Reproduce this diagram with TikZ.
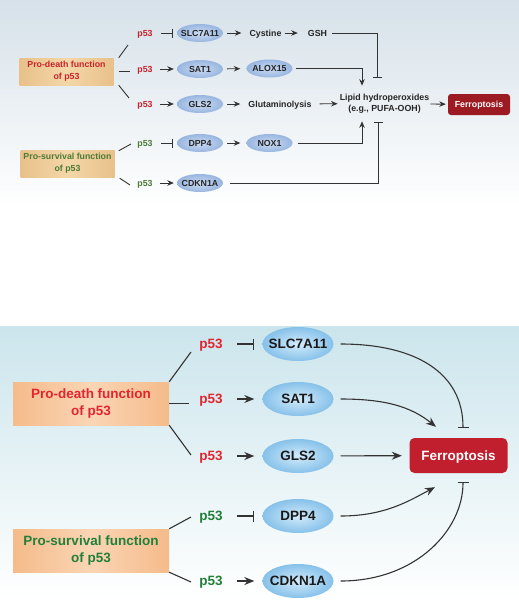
\documentclass[tikz,border=0pt]{standalone}
\usepackage{fontspec}
\setmainfont{Liberation Sans}
\usetikzlibrary{arrows.meta,shapes.geometric,calc}
\definecolor{bgA}{HTML}{D6E1E9}
\definecolor{bgB}{HTML}{CBE5EC}
\definecolor{tred}{HTML}{C8232C}
\definecolor{tgreen}{HTML}{4B7B38}
\definecolor{bred}{HTML}{E2252F}
\definecolor{bgreen}{HTML}{22803A}
\definecolor{tanA}{HTML}{E8C08A}
\definecolor{tanB}{HTML}{F4D7A8}
\definecolor{peachA}{HTML}{F5BB8A}
\definecolor{peachB}{HTML}{FAD5B5}
\definecolor{ellOutT}{HTML}{98B6E0}
\definecolor{ellInT}{HTML}{CCDBF2}
\definecolor{ellOutB}{HTML}{86C1EA}
\definecolor{ellInB}{HTML}{D3EBFA}
\definecolor{ferroT}{HTML}{9C1A22}
\definecolor{ferroB}{HTML}{C11F2E}
\definecolor{lineC}{HTML}{333333}
\newcommand{\zw}[1]{\makebox[0pt]{#1}}
\begin{document}
\begin{tikzpicture}[x=1pt,y=-1pt,
  tfont/.style={font=\fontsize{8.8}{12.3}\selectfont\bfseries},
  bfont/.style={font=\fontsize{13.5}{16.5}\selectfont\bfseries},
  tc/.style={text height=6.3pt,text depth=0pt},
  bc/.style={text height=9.7pt,text depth=0pt},
  ttxt/.style={tfont,text=black!85,inner sep=1pt,align=center},
  tp53r/.style={tfont,tc,text=tred,inner sep=1pt},
  tp53g/.style={tfont,tc,text=tgreen,inner sep=1pt},
  tfunbox/.style={tfont,align=center,minimum width=94pt,minimum height=27pt,inner sep=0pt,
    left color=tanA,right color=tanA,middle color=tanB},
  tell/.style={tfont,tc,ellipse,minimum width=46pt,minimum height=18pt,inner sep=0pt,
    inner color=ellInT,outer color=ellOutT,text=black!85},
  tferrobox/.style={tfont,tc,rounded corners=3pt,fill=ferroT,text=white,
    minimum width=62pt,minimum height=21pt,inner sep=0pt},
  tline/.style={draw=lineC,line width=0.9pt},
  tarr/.style={tline,-{Stealth[length=6.5pt,width=5.5pt]}},
  tinh/.style={tline,-{Bar[width=9pt]}},
  bp53r/.style={bfont,bc,text=bred,inner sep=1pt},
  bp53g/.style={bfont,bc,text=bgreen,inner sep=1pt},
  bfunbox/.style={bfont,align=center,minimum width=156pt,minimum height=43pt,inner sep=0pt,
    left color=peachA,right color=peachA,middle color=peachB},
  bell/.style={bfont,bc,ellipse,minimum width=71pt,minimum height=34pt,inner sep=0pt,
    inner color=ellInB,outer color=ellOutB,text=black!90},
  bferrobox/.style={bfont,bc,rounded corners=5pt,fill=ferroB,text=white,
    minimum width=98pt,minimum height=35pt,inner sep=0pt},
  bline/.style={draw=lineC,line width=1.1pt},
  barr/.style={bline,-{Stealth[length=10pt,width=8pt]}},
  binh/.style={bline,-{Bar[width=11pt]}}
]
\useasboundingbox (0,0) rectangle (519,600);
% backgrounds
\shade[top color=bgA,bottom color=white] (0,0) rectangle (519,208);
\shade[top color=bgB,bottom color=white] (0,326) rectangle (519,600);

% ================= TOP PANEL =================
\node[tfunbox,text=tred] (pd1) at (66.5,71.5) {Pro-death function\\of p53};
\node[tfunbox,text=tgreen] (ps1) at (67.5,163.5) {Pro-survival function\\of p53};
\node[tp53r] (p1) at (145,33) {p53};
\node[tp53r] (p2) at (145,69) {p53};
\node[tp53r] (p3) at (145,104) {p53};
\node[tp53g] (p4) at (145,143) {p53};
\node[tp53g] (p5) at (145,183) {p53};
\node[tell] (e1) at (200,33) {\zw{SLC7A11}};
\node[tell] (e2) at (200,69) {\zw{SAT1}};
\node[tell] (e3) at (200,104) {\zw{GLS2}};
\node[tell] (e4) at (200,143) {\zw{DPP4}};
\node[tell] (e5) at (200,183) {\zw{CDKN1A}};
\node[ttxt,tc] (cys) at (265.5,33) {Cystine};
\node[ttxt,tc] (gsh) at (317.5,33) {GSH};
\node[tell] (alox) at (269.5,68.5) {\zw{ALOX15}};
\node[ttxt,tc] (glu) at (280,104) {Glutaminolysis};
\node[tell] (nox) at (269.5,143) {\zw{NOX1}};
\node[ttxt,font=\fontsize{8.8}{11}\selectfont\bfseries] (lip) at (384.5,103.5) {Lipid hydroperoxides\\(e.g., PUFA-OOH)};
\node[tferrobox] (f1) at (479,104.5) {Ferroptosis};

% branches
\draw[tline] ($(pd1.north east)+(5,0)$) -- ($(p1)+(-17,12)$);
\draw[tline] ($(pd1.east)+(5,0)$) -- ($(pd1.east -| p2.west)+(-6,0)$);
\draw[tline] ($(pd1.south east)+(5,0)$) -- ($(p3)+(-16,-6)$);
\draw[tline] ($(ps1.north east)+(4,1)$) -- ($(p4)+(-14,1)$);
\draw[tline] ($(ps1.south east)+(5,1)$) -- ($(p5)+(-15,2)$);
% p53 -> genes
\draw[tinh,shorten <=7pt,shorten >=4pt] (p1) -- (e1);
\draw[tarr,shorten <=6pt,shorten >=3pt] (p2) -- (e2);
\draw[tarr,shorten <=6pt,shorten >=3pt] (p3) -- (e3);
\draw[tinh,shorten <=7pt,shorten >=4pt] (p4) -- (e4);
\draw[tarr,shorten <=6pt,shorten >=3pt] (p5) -- (e5);
% genes -> next
\draw[tarr,shorten <=4pt,shorten >=7pt] (e1) -- (cys);
\draw[tarr,shorten <=2pt,shorten >=9pt] (cys) -- (gsh);
\draw[tarr,shorten <=4pt,shorten >=6pt] (e2) -- (alox);
\draw[tarr,shorten <=4pt,shorten >=7pt] (e3) -- (glu);
\draw[tarr,shorten <=4pt,shorten >=6pt] (e4) -- (nox);
\draw[tarr,shorten <=7pt,shorten >=1pt] (glu) -- (lip);
\draw[tarr,shorten >=2pt] (lip) -- (f1);
% long connectors into lipid node
\coordinate (lipA) at ($(lip.north)+(-7.5,-15)$);
\coordinate (lipB) at ($(lip.north)+(-22.5,-7)$);
\coordinate (lipC) at ($(lip.south)+(-22.5,7)$);
\coordinate (lipD) at ($(lip.south)+(-6.5,8)$);
\draw[tinh] ($(gsh.east)+(4,0)$) -| (lipA);
\draw[tarr] ($(alox.east)+(3,0)$) -| (lipB);
\draw[tarr] ($(nox.east)+(5,0)$) -| (lipC);
\draw[tinh] ($(e5.east)+(7,0)$) -| (lipD);

% ================= BOTTOM PANEL =================
\node[bfunbox,text=bred] (pd2) at (91,403.5) {Pro-death function\\of p53};
\node[bfunbox,text=bgreen] (ps2) at (91,550.5) {Pro-survival function\\of p53};
\node[bp53r] (q1) at (211,344) {p53};
\node[bp53r] (q2) at (211,399) {p53};
\node[bp53r] (q3) at (211,456) {p53};
\node[bp53g] (q4) at (211,516) {p53};
\node[bp53g] (q5) at (211,581) {p53};
\node[bell] (b1) at (298,344) {\zw{SLC7A11}};
\node[bell] (b2) at (298,399) {\zw{SAT1}};
\node[bell] (b3) at (298,456) {\zw{GLS2}};
\node[bell] (b4) at (298,516) {\zw{DPP4}};
\node[bell] (b5) at (298,581) {\zw{CDKN1A}};
\node[bferrobox] (f2) at (458.5,455.5) {Ferroptosis};

% branches
\draw[bline] (pd2.north east) -- ($(q1)+(-20,8)$);
\draw[bline] (pd2.east) -- ($(pd2.east -| q2.west)+(-9,0)$);
\draw[bline] (pd2.south east) -- ($(q3)+(-20,-1)$);
\draw[bline] (ps2.north east) -- ($(q4)+(-20,1)$);
\draw[bline] (ps2.south east) -- ($(q5)+(-20,1)$);
% p53 -> genes
\draw[binh,shorten <=13pt,shorten >=8pt] (q1) -- (b1);
\draw[barr,shorten <=13pt,shorten >=8pt] (q2) -- (b2);
\draw[barr,shorten <=13pt,shorten >=8pt] (q3) -- (b3);
\draw[binh,shorten <=13pt,shorten >=8pt] (q4) -- (b4);
\draw[barr,shorten <=13pt,shorten >=8pt] (q5) -- (b5);
% genes -> Ferroptosis
\coordinate (s1) at ($(b1.east)+(7,0)$);
\coordinate (s2) at ($(b2.east)+(7,0)$);
\coordinate (s4) at ($(b4.east)+(7,0)$);
\coordinate (s5) at ($(b5.east)+(7,0)$);
\coordinate (fA) at ($(f2.north)+(4.5,-10)$);
\coordinate (fB) at ($(f2.north)+(-22.5,-11)$);
\coordinate (fC) at ($(f2.south)+(-23.5,14)$);
\coordinate (fD) at ($(f2.south)+(4.5,9)$);
\draw[binh] (s1) .. controls ($(s1)+(75,0)$) and ($(fA)+(0,-55)$) .. (fA);
\draw[barr] (s2) .. controls ($(s2)+(45,0)$) and ($(fB)+(-25,-20)$) .. (fB);
\draw[barr,shorten <=7pt,shorten >=7.5pt] (b3) -- (f2);
\draw[barr] (s4) .. controls ($(s4)+(45,0)$) and ($(fC)+(-25,13)$) .. (fC);
\draw[binh] (s5) .. controls ($(s5)+(75,0)$) and ($(fD)+(0,48)$) .. (fD);
\end{tikzpicture}
\end{document}
